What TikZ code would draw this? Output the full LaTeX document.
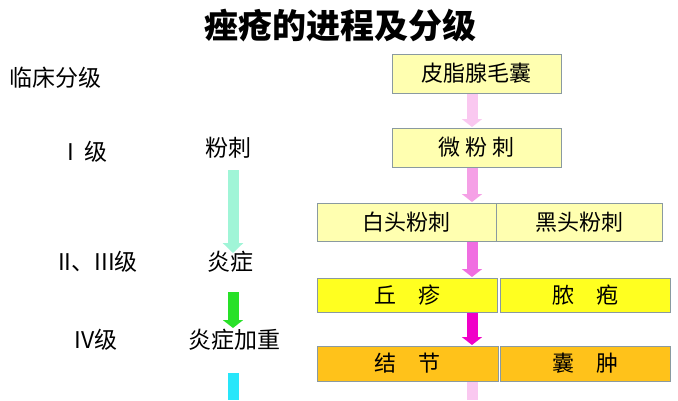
\documentclass[tikz,border=0pt]{standalone}
\usepackage{fontspec}
\newfontfamily\cjk{Noto Sans CJK SC}
\usetikzlibrary{arrows.meta}
\definecolor{lyel}{HTML}{FFFFB0}
\definecolor{yel}{HTML}{FFFF20}
\definecolor{org}{HTML}{FFC21A}
\definecolor{bord}{HTML}{8A9AA0}
\tikzset{
 box/.style={draw=bord,line width=1pt,inner sep=0pt,font=\cjk\fontsize{22}{22}\selectfont},
 lbl/.style={font=\cjk\fontsize{23}{23}\selectfont,anchor=center},
 fat/.style={line width=11pt,-{Triangle[width=20pt,length=8pt]}},
}
\begin{document}
\begin{tikzpicture}[x=1pt,y=-1pt]
\useasboundingbox[fill=white] (0,0) rectangle (678,400);
\node[font=\cjk\bfseries\fontsize{34}{34}\selectfont] (title) at (340,26) {痤疮的进程及分级};
\node[lbl,anchor=west] (lc) at (6,78) {临床分级};
\node[lbl] (g1) at (88,152) {I\ \ 级};
\node[lbl] (f1) at (228,148) {粉刺};
\node[lbl] (g2) at (98,262) {II、III级};
\node[lbl] (f2) at (230,262) {炎症};
\node[lbl] (g4) at (96,340) {IV级};
\node[lbl] (f4) at (234,340) {炎症加重};
\coordinate (e1) at (233,253);
\coordinate (e2) at (233,328);
\coordinate (bot) at (233,400);
\draw[fat,draw={rgb,255:red,160;green,245;blue,215},-{Triangle[width=20pt,length=10pt]}] (233,170) -- (e1);
\draw[fat,draw={rgb,255:red,40;green,225;blue,40}] (233,292) -- (e2);
\draw[line width=11pt,draw={rgb,255:red,40;green,230;blue,250}] (233,373) -- (bot);
% right column
\node[box,fill=lyel,minimum width=169pt,minimum height=39pt] (b1) at (476.5,73.5) {皮脂腺毛囊};
\node[box,fill=lyel,minimum width=169pt,minimum height=39pt] (b2) at (476.5,147.5) {微\ 粉\ 刺};
\node[box,fill=lyel,minimum width=179pt,minimum height=38pt] (b3a) at (406.5,222) {白头粉刺};
\node[box,fill=lyel,minimum width=166pt,minimum height=38pt] (b3b) at (579,222) {黑头粉刺};
\node[box,fill=yel,minimum width=180pt,minimum height=34pt] (b4a) at (407,295) {丘\quad 疹};
\node[box,fill=yel,minimum width=170pt,minimum height=34pt] (b4b) at (585,295) {脓\quad 疱};
\node[box,fill=org,minimum width=181pt,minimum height=35pt] (b5a) at (407.5,363.5) {结\quad 节};
\node[box,fill=org,minimum width=170pt,minimum height=35pt] (b5b) at (585,363.5) {囊\quad 肿};
\coordinate (a1s) at (472,94); \coordinate (a1e) at (472,127);
\coordinate (a2s) at (472,168); \coordinate (a2e) at (472,202);
\coordinate (a3s) at (472,242); \coordinate (a3e) at (472,277);
\coordinate (a4s) at (472,313); \coordinate (a4e) at (472,345);
\coordinate (a5s) at (472,382); \coordinate (a5e) at (472,400);
\draw[fat,draw={rgb,255:red,250;green,200;blue,240}] (a1s) -- (a1e);
\draw[fat,draw={rgb,255:red,245;green,160;blue,230}] (a2s) -- (a2e);
\draw[fat,draw={rgb,255:red,240;green,110;blue,225}] (a3s) -- (a3e);
\draw[fat,draw={rgb,255:red,240;green,0;blue,200}] (a4s) -- (a4e);
\draw[line width=11pt,draw={rgb,255:red,250;green,200;blue,240}] (a5s) -- (a5e);
\end{tikzpicture}
\end{document}
